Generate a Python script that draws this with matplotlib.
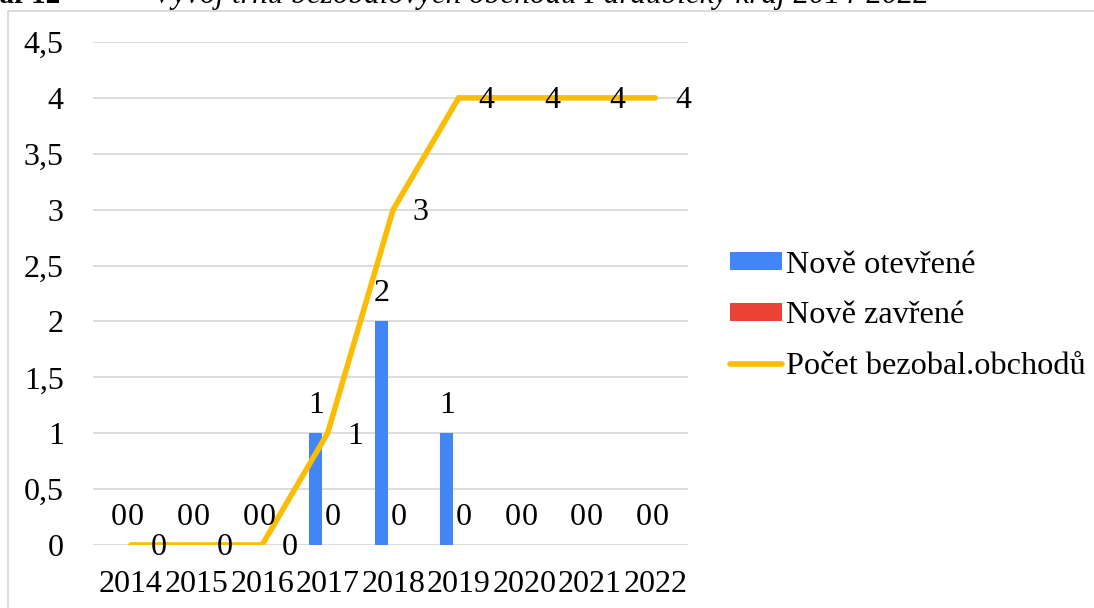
import matplotlib
matplotlib.use('Agg')
import matplotlib.pyplot as plt
import numpy as np
from matplotlib.patches import Patch, Rectangle
from matplotlib.lines import Line2D

years = ['2014', '2015', '2016', '2017', '2018', '2019', '2020', '2021', '2022']
newly_opened = [0, 0, 0, 1, 2, 1, 0, 0, 0]
newly_closed = [0, 0, 0, 0, 0, 0, 0, 0, 0]
shop_count = [0, 0, 0, 1, 3, 4, 4, 4, 4]
y_ticks = [0, 0.5, 1, 1.5, 2, 2.5, 3, 3.5, 4, 4.5]

BLUE = '#4285F4'
RED = '#EA4335'
YELLOW = '#FBBC04'
GRID = '#d9d9d9'

plt.rcParams['font.family'] = ['Liberation Serif', 'DejaVu Serif']
FS = 23


def fmt(v):
    s = ('%g' % v).replace('.', ',')
    return s


fig = plt.figure(figsize=(10.94, 6.08), dpi=100)
W, H = 1094, 608

# outer chart border (partly cut off by the page)
fig.patches.append(Rectangle((8 / W, -0.05), 1.2, 1 - 11 / H + 0.05,
                             transform=fig.transFigure, fill=False,
                             edgecolor=GRID, lw=1.3))

# caption from the document, cut at the top edge
fig.text(60 / W, 1 - 3 / H, 'Graf 12', ha='right', va='baseline',
         fontsize=21, fontweight='bold')
fig.text(153 / W, 1 - 3 / H,
         'Vývoj trhu bezobalových obchodů Pardubický kraj 2014-2022',
         ha='left', va='baseline', fontsize=22.5, fontstyle='italic')

ax = fig.add_axes([93 / W, 63 / H, 595 / W, 503 / H])
x = np.arange(len(years))
off_open, off_closed, bw = -0.18, 0.08, 0.2

ax.bar(x + off_open, newly_opened, bw, color=BLUE, zorder=2)
ax.bar(x + off_closed, newly_closed, bw, color=RED, zorder=2)
ax.plot(x, shop_count, color=YELLOW, lw=4, solid_capstyle='round',
        solid_joinstyle='miter', zorder=3)

for i in range(len(years)):
    ax.annotate(fmt(newly_opened[i]), (x[i] + off_open, newly_opened[i]),
                xytext=(0, 20), textcoords='offset points',
                ha='center', va='center', fontsize=FS)
    ax.annotate(fmt(newly_closed[i]), (x[i] + off_closed, newly_closed[i]),
                xytext=(0, 20), textcoords='offset points',
                ha='center', va='center', fontsize=FS)
    ax.annotate(fmt(shop_count[i]), (x[i], shop_count[i]),
                xytext=(20, -2), textcoords='offset points',
                ha='center', va='center', fontsize=FS, zorder=4)

ax.set_xlim(-0.58, 8.5)
ax.set_ylim(0, 4.5)
ax.set_yticks(y_ticks)
ax.set_yticklabels([fmt(v) for v in y_ticks], fontsize=FS)
ax.set_xticks(x)
ax.set_xticklabels(years, fontsize=FS)
ax.tick_params(axis='y', length=0, pad=21)
ax.tick_params(axis='x', length=0, pad=18)
for s in ax.spines.values():
    s.set_visible(False)
ax.yaxis.grid(True, color=GRID, lw=1.3)
ax.set_axisbelow(True)

handles = [Patch(facecolor=BLUE, edgecolor='none'),
           Patch(facecolor=RED, edgecolor='none'),
           Line2D([], [], color=YELLOW, lw=4, solid_capstyle='round')]
labels = ['Nově otevřené', 'Nově zavřené', 'Počet bezobal.obchodů']
fig.legend(handles, labels, loc='center left',
           bbox_to_anchor=(730 / W, (H - 316) / H), frameon=False,
           fontsize=23.2, borderpad=0, borderaxespad=0,
           handlelength=1.6, handleheight=0.45, handletextpad=0.15,
           labelspacing=0.68)

fig.savefig('out.png', dpi=100)
